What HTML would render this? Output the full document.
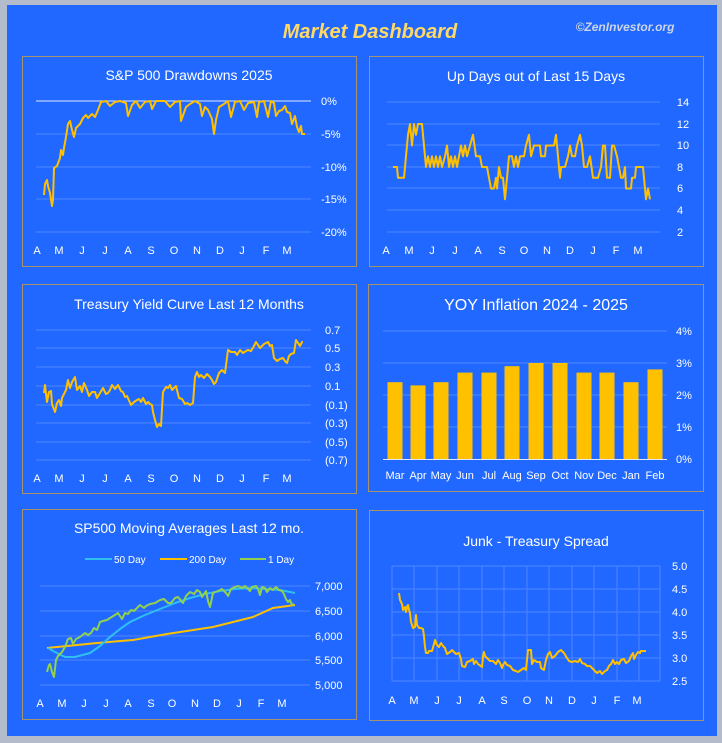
<!DOCTYPE html>
<html><head><meta charset="utf-8"><style>
html,body{margin:0;padding:0;background:#b4bccb;}
svg{display:block;font-family:"Liberation Sans",sans-serif;}
</style></head><body>
<svg width="722" height="743" viewBox="0 0 722 743" xmlns="http://www.w3.org/2000/svg">
<rect x="0" y="0" width="722" height="743" fill="#b4bccb"/>
<rect x="7" y="5" width="710" height="731" fill="#2068ff"/>
<text x="370" y="38" text-anchor="middle" font-size="20" font-weight="bold" font-style="italic" fill="#ffd966">Market Dashboard</text>
<text x="625" y="31" text-anchor="middle" font-size="12" font-weight="bold" font-style="italic" fill="#cdd5e6">©ZenInvestor.org</text>

<g fill="none" stroke="#a8946a" stroke-width="1">
<rect x="22.5" y="56.5" width="334" height="210"/>
<rect x="369.5" y="56.5" width="334" height="210"/>
<rect x="22.5" y="284.5" width="334" height="209"/>
<rect x="368.5" y="284.5" width="335" height="207"/>
<rect x="22.5" y="509.5" width="334" height="210"/>
<rect x="369.5" y="510.5" width="334" height="210"/>
</g>

<g fill="#ffffff" text-anchor="middle">
<text x="189" y="80" font-size="14">S&amp;P 500 Drawdowns 2025</text>
<text x="536" y="81" font-size="14">Up Days out of Last  15 Days</text>
<text x="189" y="309" font-size="14">Treasury Yield Curve Last 12 Months</text>
<text x="536" y="310" font-size="16">YOY Inflation 2024 - 2025</text>
<text x="189" y="533" font-size="14">SP500 Moving Averages Last 12 mo.</text>
<text x="536" y="546" font-size="14">Junk - Treasury Spread</text>
</g>

<!-- TL -->
<g stroke="#4f86ff" stroke-width="1">
<line x1="36" y1="134" x2="311" y2="134"/><line x1="36" y1="167" x2="311" y2="167"/><line x1="36" y1="199" x2="311" y2="199"/><line x1="36" y1="232" x2="311" y2="232"/>
</g>
<line x1="36" y1="101" x2="311" y2="101" stroke="#dfe8ff" stroke-width="1"/>
<g fill="#fff" font-size="11">
<text x="321" y="105">0%</text><text x="321" y="138">-5%</text><text x="321" y="171">-10%</text><text x="321" y="203">-15%</text><text x="321" y="236">-20%</text>
</g>
<g fill="#fff" font-size="11" text-anchor="middle">
<text x="37" y="254">A</text><text x="59" y="254">M</text><text x="82" y="254">J</text><text x="105" y="254">J</text><text x="128" y="254">A</text><text x="151" y="254">S</text><text x="174" y="254">O</text><text x="197" y="254">N</text><text x="220" y="254">D</text><text x="242" y="254">J</text><text x="266" y="254">F</text><text x="287" y="254">M</text>
</g>
<polyline fill="none" stroke="#ffc000" stroke-width="2" stroke-linejoin="round" points="44,195 45,184 47,180 48,186 50,193 52,206 53,200 54,168 57,166 60,158 61,150 63,155 64,148 66,137 68,124 70,121 72,130 74,137 76,128 80,124 83,118 86,115 88,118 92,114 95,117 98,110 101,102 106,101 110,106 115,102 120,101 126,103 128,116 132,105 136,101 140,108 145,102 150,101 152,109 156,101 165,101 170,107 175,102 180,101 181,121 186,107 190,104 195,101 200,104 202,116 205,107 208,110 212,119 214,134 216,120 219,107 224,104 228,101 231,117 235,102 240,101 244,110 248,103 254,102 257,117 259,102 264,101 268,117 271,101 274,103 276,116 279,111 282,110 285,106 287,112 290,113 292,124 295,116 297,127 299,132 301,126 302,134 305,134"/>

<!-- TR -->
<g stroke="#4f86ff" stroke-width="1">
<line x1="387" y1="102" x2="660" y2="102"/><line x1="387" y1="124" x2="660" y2="124"/><line x1="387" y1="145" x2="660" y2="145"/><line x1="387" y1="167" x2="660" y2="167"/><line x1="387" y1="188" x2="660" y2="188"/><line x1="387" y1="210" x2="660" y2="210"/><line x1="387" y1="232" x2="660" y2="232"/>
</g>
<g fill="#fff" font-size="11" text-anchor="middle">
<text x="683" y="106">14</text><text x="683" y="128">12</text><text x="683" y="149">10</text><text x="680" y="171">8</text><text x="680" y="192">6</text><text x="680" y="214">4</text><text x="680" y="236">2</text>
<text x="386" y="254">A</text><text x="409" y="254">M</text><text x="432" y="254">J</text><text x="455" y="254">J</text><text x="478" y="254">A</text><text x="502" y="254">S</text><text x="524" y="254">O</text><text x="547" y="254">N</text><text x="570" y="254">D</text><text x="593" y="254">J</text><text x="616" y="254">F</text><text x="638" y="254">M</text>
</g>
<polyline id="ud" fill="none" stroke="#ffc000" stroke-width="2" stroke-linejoin="round" points=""/>

<!-- ML -->
<g stroke="#4f86ff" stroke-width="1">
<line x1="36" y1="330" x2="311" y2="330"/><line x1="36" y1="348" x2="311" y2="348"/><line x1="36" y1="367" x2="311" y2="367"/><line x1="36" y1="386" x2="311" y2="386"/><line x1="36" y1="405" x2="311" y2="405"/><line x1="36" y1="423" x2="311" y2="423"/><line x1="36" y1="442" x2="311" y2="442"/><line x1="36" y1="460" x2="311" y2="460"/>
</g>
<g fill="#fff" font-size="11">
<text x="325" y="334">0.7</text><text x="325" y="352">0.5</text><text x="325" y="371">0.3</text><text x="325" y="390">0.1</text><text x="325" y="409">(0.1)</text><text x="325" y="427">(0.3)</text><text x="325" y="446">(0.5)</text><text x="325" y="464">(0.7)</text>
</g>
<g fill="#fff" font-size="11" text-anchor="middle">
<text x="37" y="482">A</text><text x="59" y="482">M</text><text x="82" y="482">J</text><text x="105" y="482">J</text><text x="128" y="482">A</text><text x="151" y="482">S</text><text x="174" y="482">O</text><text x="197" y="482">N</text><text x="220" y="482">D</text><text x="242" y="482">J</text><text x="266" y="482">F</text><text x="287" y="482">M</text>
</g>
<polyline fill="none" stroke="#ffc000" stroke-width="2" stroke-linejoin="round" points="44,393 45,385 47,402 49,392 51,391 52,404 55,412 57,403 59,400 61,406 62,398 66,390 68,380 70,388 72,382 75,377 77,390 80,386 82,392 84,383 87,390 89,396 92,392 95,392 97,398 100,393 103,388 106,394 108,393 110,390 112,385 115,389 118,385 121,391 123,392 125,397 127,396 131,405 134,402 137,400 139,399 141,402 143,398 146,404 148,402 150,404 152,405 153,412 155,420 157,427 159,424 161,426 163,392 166,387 168,388 170,385 172,390 174,388 176,386 179,398 182,399 185,404 187,403 190,405 193,403 195,377 197,372 199,377 201,375 204,378 207,374 210,377 212,380 214,384 216,382 219,373 222,370 225,373 228,350 231,352 235,352 237,355 240,350 243,353 246,351 248,350 251,351 254,346 256,342 258,345 260,348 264,344 268,342 270,346 272,345 274,358 277,361 280,359 283,358 285,361 287,363 289,356 291,354 294,353 296,340 298,343 300,346 302,342 303,342"/>

<!-- MR bars -->
<g stroke="#4f86ff" stroke-width="1">
<line x1="383" y1="331" x2="667" y2="331"/><line x1="383" y1="363" x2="667" y2="363"/><line x1="383" y1="395" x2="667" y2="395"/><line x1="383" y1="427" x2="667" y2="427"/>
</g>
<g id="bars" fill="#ffc000"></g>
<line x1="383" y1="459.5" x2="667" y2="459.5" stroke="#dfe8ff" stroke-width="1"/>
<g fill="#fff" font-size="11" text-anchor="middle">
<text x="684" y="335">4%</text><text x="684" y="367">3%</text><text x="684" y="399">2%</text><text x="684" y="431">1%</text><text x="684" y="463">0%</text>
</g>
<g fill="#fff" font-size="11" text-anchor="middle">
<text x="395" y="479">Mar</text><text x="418" y="479">Apr</text><text x="441" y="479">May</text><text x="465" y="479">Jun</text><text x="489" y="479">Jul</text><text x="512" y="479">Aug</text><text x="536" y="479">Sep</text><text x="560" y="479">Oct</text><text x="584" y="479">Nov</text><text x="607" y="479">Dec</text><text x="631" y="479">Jan</text><text x="655" y="479">Feb</text>
</g>

<!-- BL -->
<line x1="85" y1="559" x2="112" y2="559" stroke="#30c0f0" stroke-width="2"/>
<line x1="160" y1="559" x2="187" y2="559" stroke="#ffc000" stroke-width="2"/>
<line x1="240" y1="559" x2="266" y2="559" stroke="#92d050" stroke-width="2"/>
<g fill="#fff" font-size="10">
<text x="114" y="563">50 Day</text><text x="189" y="563">200 Day</text><text x="268" y="563">1 Day</text>
</g>
<g stroke="#4f86ff" stroke-width="1">
<line x1="40" y1="586" x2="310" y2="586"/><line x1="40" y1="611" x2="310" y2="611"/><line x1="40" y1="636" x2="310" y2="636"/><line x1="40" y1="660" x2="310" y2="660"/><line x1="40" y1="685" x2="310" y2="685"/>
</g>
<g fill="#fff" font-size="11">
<text x="315" y="590">7,000</text><text x="315" y="615">6,500</text><text x="315" y="640">6,000</text><text x="315" y="664">5,500</text><text x="315" y="689">5,000</text>
</g>
<g fill="#fff" font-size="11" text-anchor="middle">
<text x="40" y="707">A</text><text x="62" y="707">M</text><text x="84" y="707">J</text><text x="106" y="707">J</text><text x="128" y="707">A</text><text x="151" y="707">S</text><text x="172" y="707">O</text><text x="195" y="707">N</text><text x="217" y="707">D</text><text x="239" y="707">J</text><text x="261" y="707">F</text><text x="282" y="707">M</text>
</g>
<polyline fill="none" stroke="#ffc000" stroke-width="2" points="47,648 97,643 133,640 167,634 213,627 253,617 273,608 295,605"/>
<polyline fill="none" stroke="#30c0f0" stroke-width="2" stroke-linejoin="round" points="48,648 55,652 65,657 75,657 90,653 100,646 110,637 120,629 130,622 145,615 160,609 175,603 190,598 205,594 220,591 235,589 250,588 265,589 280,590 295,593"/>
<polyline fill="none" stroke="#92d050" stroke-width="2" stroke-linejoin="round" points="47,672 49,665 50,664 52,672 54,677 56,660 58,656 62,652 65,647 68,639 71,638 73,644 76,639 80,637 85,633 88,635 91,633 94,628 97,630 100,622 103,621 107,620 110,618 115,615 118,613 122,619 125,613 128,614 131,610 134,611 137,608 140,605 144,608 146,606 150,604 155,603 160,600 164,599 168,603 171,603 175,598 178,597 183,603 186,596 190,592 194,594 197,590 200,592 202,597 206,591 208,601 210,607 213,593 218,591 222,589 226,593 228,596 231,589 235,587 238,586 242,588 245,586 250,591 252,587 256,586 258,589 260,595 262,587 265,588 267,592 270,588 273,590 276,587 279,590 282,591 284,594 286,599 288,602 290,600 292,605 294,604"/>

<!-- BR -->
<g stroke="#4f86ff" stroke-width="1">
<line x1="392" y1="566" x2="660" y2="566"/><line x1="392" y1="589" x2="660" y2="589"/><line x1="392" y1="612" x2="660" y2="612"/><line x1="392" y1="635" x2="660" y2="635"/><line x1="392" y1="658" x2="660" y2="658"/><line x1="392" y1="681" x2="660" y2="681"/>
<line x1="392" y1="566" x2="392" y2="681"/><line x1="414" y1="566" x2="414" y2="681"/><line x1="437" y1="566" x2="437" y2="681"/><line x1="459" y1="566" x2="459" y2="681"/><line x1="482" y1="566" x2="482" y2="681"/><line x1="504" y1="566" x2="504" y2="681"/><line x1="527" y1="566" x2="527" y2="681"/><line x1="549" y1="566" x2="549" y2="681"/><line x1="572" y1="566" x2="572" y2="681"/><line x1="594" y1="566" x2="594" y2="681"/><line x1="617" y1="566" x2="617" y2="681"/><line x1="639" y1="566" x2="639" y2="681"/><line x1="660" y1="566" x2="660" y2="681"/>
</g>
<g fill="#fff" font-size="11">
<text x="672" y="570">5.0</text><text x="672" y="593">4.5</text><text x="672" y="616">4.0</text><text x="672" y="639">3.5</text><text x="672" y="662">3.0</text><text x="672" y="685">2.5</text>
</g>
<g fill="#fff" font-size="11" text-anchor="middle">
<text x="392" y="704">A</text><text x="414" y="704">M</text><text x="437" y="704">J</text><text x="459" y="704">J</text><text x="482" y="704">A</text><text x="504" y="704">S</text><text x="527" y="704">O</text><text x="549" y="704">N</text><text x="572" y="704">D</text><text x="594" y="704">J</text><text x="617" y="704">F</text><text x="637" y="704">M</text>
</g>
<polyline fill="none" stroke="#ffc000" stroke-width="2" stroke-linejoin="round" points="399,593 400,600 402,604 403,610 405,607 406,612 407,607 408,605 409,610 410,613 411,622 413,628 415,627 416,615 417,625 419,628 421,628 423,629 424,636 425,647 426,653 428,653 429,651 432,651 434,644 435,640 437,645 439,647 441,643 443,646 445,648 447,654 450,652 452,650 454,652 456,654 459,653 461,659 462,666 465,667 467,662 470,661 473,659 474,664 476,661 478,664 482,667 483,657 484,652 485,656 487,658 490,661 493,661 496,664 498,660 500,663 502,668 503,665 505,662 507,665 510,666 513,670 516,671 518,672 521,670 524,668 526,670 528,650 531,650 532,664 534,660 537,662 540,662 541,668 544,670 546,660 548,654 550,652 552,658 555,656 558,652 561,650 564,653 567,658 569,661 572,662 575,661 578,662 580,659 582,663 585,664 587,666 590,666 593,669 595,671 597,673 600,671 602,674 605,671 607,670 609,666 611,664 613,660 615,664 617,662 619,664 621,660 624,659 626,663 629,661 631,656 633,653 634,659 636,655 638,652 640,653 641,651 643,651 646,651"/>
</svg>
<script>
(function(){
var d=[[393,8],[397,8],[398,7],[404,7],[406,9],[408,11],[410,12],[412,10],[414,12],[416,11],[418,12],[422,12],[424,10],[426,8],[428,9],[430,8],[432,9],[434,8],[436,9],[438,8],[440,9],[442,8],[445,9],[447,10],[449,8],[451,9],[453,8],[455,9],[457,8],[459,9],[461,10],[463,9],[465,10],[467,9],[470,10],[473,11],[476,9],[480,9],[482,8],[487,8],[489,7],[491,6],[494,6],[496,7],[497,6],[499,8],[501,7],[503,7],[505,5],[507,7],[509,9],[512,9],[514,8],[516,9],[518,8],[520,9],[524,9],[526,10],[529,11],[531,9],[534,10],[540,10],[541,9],[545,9],[546,10],[554,10],[556,11],[558,9],[560,7],[561,8],[565,8],[568,9],[570,10],[572,9],[575,9],[577,10],[580,11],[582,10],[584,8],[587,8],[590,9],[593,7],[598,7],[601,8],[603,10],[605,10],[607,7],[610,7],[612,10],[614,10],[617,9],[619,8],[621,7],[623,7],[625,8],[626,6],[631,6],[632,7],[635,7],[636,8],[643,8],[646,5],[648,6],[650,5]];
document.getElementById('ud').setAttribute('points',d.map(function(p){return p[0]+','+(167-(p[1]-8)*10.75).toFixed(1);}).join(' '));
var c=[395,418,441,465,489,512,536,560,584,607,631,655],v=[2.4,2.3,2.4,2.7,2.7,2.9,3.0,3.0,2.7,2.7,2.4,2.8],g=document.getElementById('bars'),s='';
for(var i=0;i<12;i++){var h=v[i]*32;s+='<rect x="'+(c[i]-7.5)+'" y="'+(459-h)+'" width="15" height="'+h+'"/>';}
g.innerHTML=s;
})();
</script>
</body></html>
